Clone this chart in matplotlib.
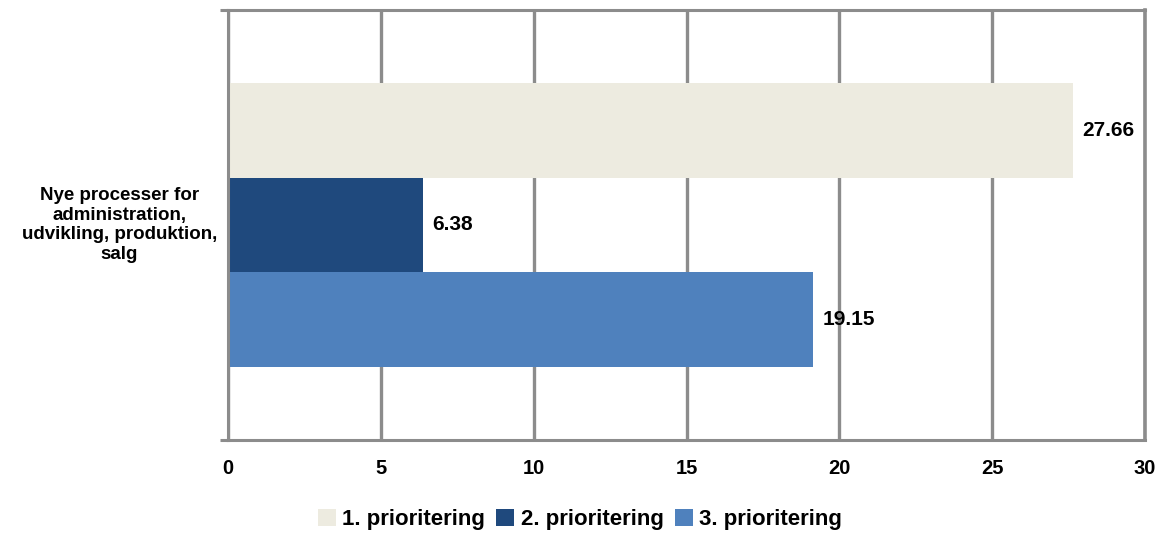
import matplotlib.pyplot as plt
import numpy as np

CATEGORY = 'Nye processer for\nadministration,\nudvikling, produktion,\nsalg'
SERIES = ['1. prioritering', '2. prioritering', '3. prioritering']
VALUES = [27.66, 6.38, 19.15]
LABELS = ['27.66', '6.38', '19.15']
COLORS = ['#EDEBE0', '#1F497D', '#4F81BD']
XTICKS = [0, 5, 10, 15, 20, 25, 30]

GRID = '#8C8C8C'

plt.rcParams['font.family'] = ['Liberation Sans', 'DejaVu Sans']
plt.rcParams['font.weight'] = 'bold'

fig = plt.figure(figsize=(11.64, 5.33), dpi=100)
ax = fig.add_axes([228/1164, 1-440/533, (1145-228)/1164, 430/533])

h = 0.22
offsets = [h, 0, -h]
for i in range(len(SERIES)):
    ax.barh(offsets[i], VALUES[i], height=h, color=COLORS[i], label=SERIES[i], zorder=3)
    ax.text(VALUES[i] + 0.3, offsets[i], LABELS[i], va='center', ha='left',
            fontsize=15, fontweight='bold', zorder=4)

ax.set_xlim(0, 30)
ax.set_ylim(-0.5, 0.5)
ax.set_xticks(XTICKS)
ax.set_xticklabels([str(t) for t in XTICKS], fontsize=14.5, fontweight='bold')
ax.tick_params(axis='x', length=0, pad=14)
ax.xaxis.grid(True, color=GRID, linewidth=2.4, zorder=1)

ax.set_yticks([-0.5, 0.5])
ax.set_yticklabels(['', ''])
ax.tick_params(axis='y', length=6, width=2.2, color=GRID, direction='out')
ax.text(-3.55, 0, CATEGORY, ha='center', va='center', fontsize=13.5, fontweight='bold',
        multialignment='center', linespacing=1.2)

for s in ['top', 'bottom', 'left', 'right']:
    ax.spines[s].set_color(GRID)
    ax.spines[s].set_linewidth(2.2)
ax.spines['right'].set_linewidth(2.6)
ax.spines['left'].set_zorder(5)

# legend centred near x=580 px of the figure
lx = (580 - 228) / 917
ax.legend(loc='center', bbox_to_anchor=(lx, -0.185),
          ncol=3, frameon=False, handlelength=0.8, handleheight=0.8,
          handletextpad=0.3, columnspacing=0.5, prop={'weight': 'bold', 'size': 16})

fig.savefig('out.png', dpi=100)
